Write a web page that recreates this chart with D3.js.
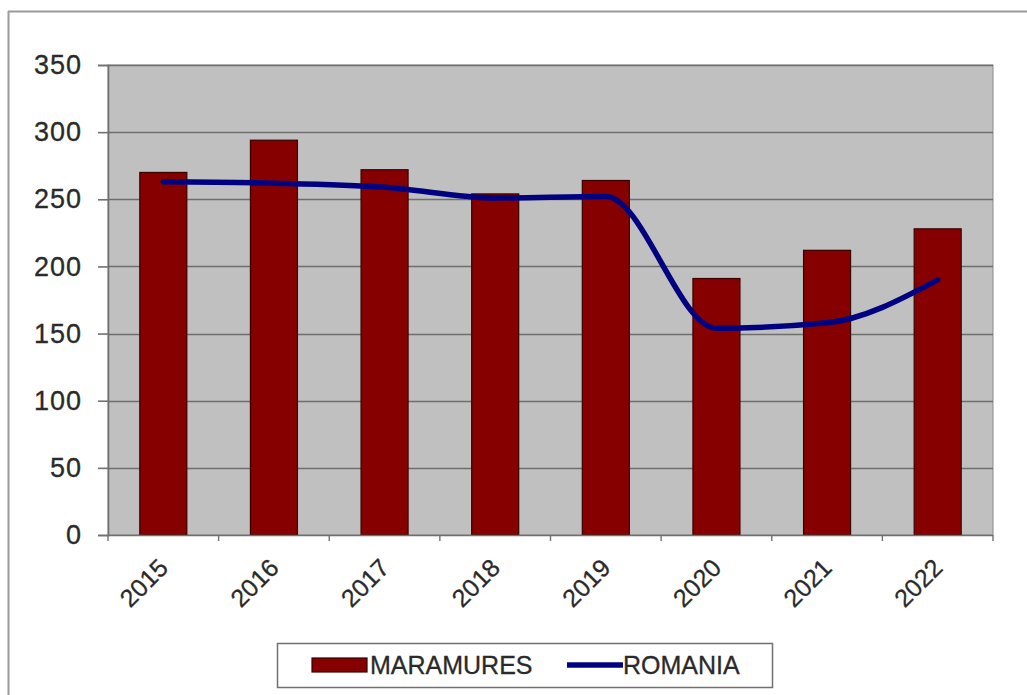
<!DOCTYPE html>
<html>
<head>
<meta charset="utf-8">
<script src="https://cdn.jsdelivr.net/npm/d3@7"></script>
<style>
  html, body { margin: 0; padding: 0; background: #fff; }
  svg { display: block; font-family: Arial, "Liberation Sans", sans-serif; }
</style>
</head>
<body>
<svg id="chart" width="1027" height="695"></svg>
<script>
const categories = ["2015", "2016", "2017", "2018", "2019", "2020", "2021", "2022"];
const maramures = [270, 294, 272, 254, 264, 191, 212, 228];
const romania = [263, 262, 259, 251, 252, 154, 158, 190];
const yTicks = [0, 50, 100, 150, 200, 250, 300, 350];
const seriesNames = ["MARAMURES", "ROMANIA"];

const svg = d3.select("#chart");
const W = 1027, H = 695;
const plot = { left: 108, right: 993, top: 65, bottom: 535 };
const textColor = "#2a2a2a";

// outer frame (left and top edges visible)
svg.append("line").attr("x1", 8.5).attr("x2", 8.5).attr("y1", 11).attr("y2", H)
  .attr("stroke", "#9a9a9a").attr("stroke-width", 2);
svg.append("line").attr("x1", 8).attr("x2", W).attr("y1", 11.5).attr("y2", 11.5)
  .attr("stroke", "#9a9a9a").attr("stroke-width", 2);

const x = d3.scaleBand().domain(categories).range([plot.left, plot.right]).paddingInner(0.575).paddingOuter(0.2875);
const xb = d3.scaleBand().domain(categories).range([plot.left, plot.right]);
const y = d3.scaleLinear().domain([0, 350]).range([plot.bottom, plot.top]);

// plot background
svg.append("rect").attr("x", plot.left).attr("y", plot.top)
  .attr("width", plot.right - plot.left).attr("height", plot.bottom - plot.top)
  .attr("fill", "#c0c0c0").attr("stroke", "#8a8a8a").attr("stroke-width", 1);

// gridlines
svg.append("g").selectAll("line").data(yTicks.filter(d => d > 0)).join("line")
  .attr("x1", plot.left).attr("x2", plot.right)
  .attr("y1", d => Math.round(y(d)) + 0.5).attr("y2", d => Math.round(y(d)) + 0.5)
  .attr("stroke", "#6e6e6e").attr("stroke-width", 1.6);

// bars
svg.append("g").selectAll("rect").data(maramures).join("rect")
  .attr("x", (d, i) => x(categories[i]))
  .attr("y", d => y(d))
  .attr("width", x.bandwidth())
  .attr("height", d => y(0) - y(d))
  .attr("fill", "#860000")
  .attr("stroke", "#3a0000").attr("stroke-width", 1.2);

// line
const line = d3.line()
  .x((d, i) => xb(categories[i]) + xb.bandwidth() / 2)
  .y(d => y(d))
  .curve(d3.curveMonotoneX);
svg.append("path").datum(romania).attr("d", line)
  .attr("fill", "none").attr("stroke", "#000080").attr("stroke-width", 5.5)
  .attr("stroke-linejoin", "round").attr("stroke-linecap", "round");

// y axis
const yAxis = d3.axisLeft(y).tickValues(yTicks).tickSize(10).tickPadding(16);
const gy = svg.append("g").attr("transform", `translate(${plot.left},0)`).call(yAxis);
gy.select(".domain").attr("stroke", "#707070").attr("stroke-width", 1.6);
gy.selectAll(".tick line").attr("stroke", "#707070").attr("stroke-width", 1.6);
gy.selectAll(".tick text").attr("font-size", 27).attr("fill", textColor)
  .attr("font-family", "Arial, 'Liberation Sans', sans-serif").attr("letter-spacing", 1)
  .attr("stroke", textColor).attr("stroke-width", 0.3);

// x axis (ticks at band boundaries)
svg.append("line").attr("x1", plot.left).attr("x2", plot.right)
  .attr("y1", plot.bottom + 0.5).attr("y2", plot.bottom + 0.5)
  .attr("stroke", "#707070").attr("stroke-width", 1.6);
const boundaries = categories.map(c => xb(c)).concat([plot.right]);
svg.append("g").selectAll("line").data(boundaries).join("line")
  .attr("x1", d => d).attr("x2", d => d)
  .attr("y1", plot.bottom).attr("y2", plot.bottom + 6)
  .attr("stroke", "#707070").attr("stroke-width", 1.4);

svg.append("g").selectAll("text").data(categories).join("text")
  .attr("transform", d => `translate(${xb(d) + xb.bandwidth() / 2 - 6},${plot.bottom + 22}) rotate(-45)`)
  .attr("text-anchor", "end")
  .attr("dy", "0.7em")
  .attr("font-size", 25).attr("fill", textColor)
  .attr("stroke", textColor).attr("stroke-width", 0.3)
  .text(d => d);

// legend
const lg = svg.append("g");
lg.append("rect").attr("x", 277.5).attr("y", 643.5).attr("width", 495).attr("height", 44)
  .attr("fill", "#fff").attr("stroke", "#707070").attr("stroke-width", 1.5);
lg.append("rect").attr("x", 312).attr("y", 658).attr("width", 55).attr("height", 14)
  .attr("fill", "#860000").attr("stroke", "#3a0000").attr("stroke-width", 1.2);
lg.append("text").attr("x", 370).attr("y", 674).attr("font-size", 25).attr("fill", textColor)
  .attr("stroke", textColor).attr("stroke-width", 0.3)
  .text(seriesNames[0]);
lg.append("line").attr("x1", 567).attr("x2", 623).attr("y1", 665).attr("y2", 665)
  .attr("stroke", "#000080").attr("stroke-width", 5.5);
lg.append("text").attr("x", 623).attr("y", 674).attr("font-size", 25).attr("fill", textColor)
  .attr("stroke", textColor).attr("stroke-width", 0.3)
  .text(seriesNames[1]);
</script>
</body>
</html>
